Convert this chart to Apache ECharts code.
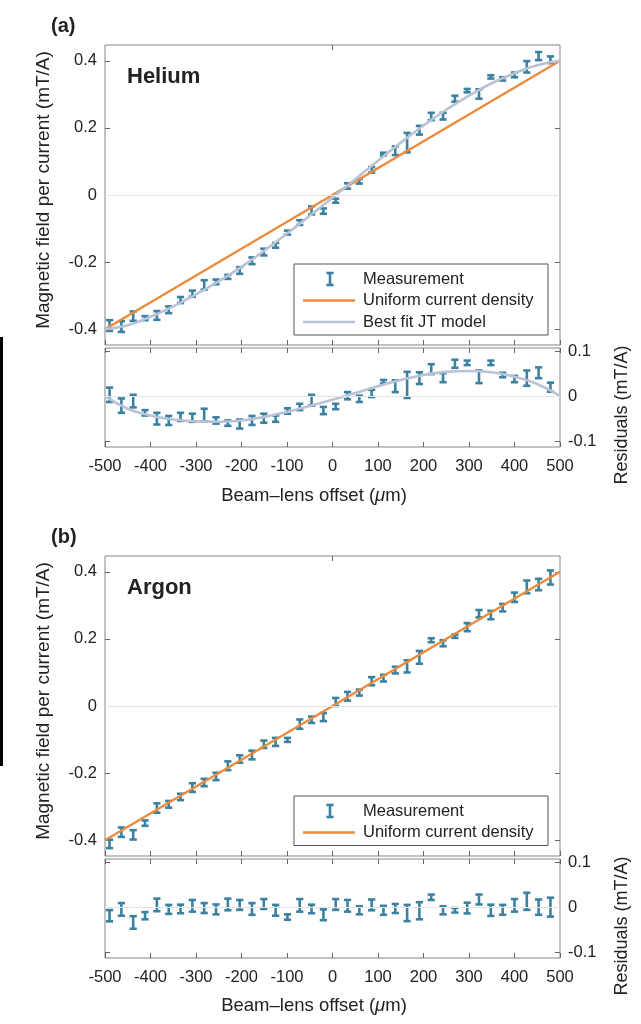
<!DOCTYPE html>
<html>
<head>
    <meta charset="utf-8">
    <title>Beam-lens offset</title>
    <style>
        html, body { margin: 0; padding: 0; background: #fff; }
        #chart { width: 641px; height: 1024px; }
    </style>
</head>
<body>
    <div id="chart"></div>
    <script src="https://cdn.jsdelivr.net/npm/echarts@6/dist/echarts.min.js"></script>
    <script>
        // beam-lens offset of every measurement (um)
        var xPos = [-490, -464, -438, -412, -386, -360, -334, -308, -282, -256, -230, -204, -177,
            -151, -125, -99, -72, -46, -20, 7, 33, 59, 86, 112, 138, 164, 191, 217, 243, 269, 296,
            322, 348, 374, 400, 427, 453, 479];

        // helium: field per current (mT/A), residual, error half-width
        var heliumMain = [-0.389, -0.392, -0.361, -0.367, -0.359, -0.342, -0.313, -0.294, -0.268,
            -0.259, -0.244, -0.225, -0.196, -0.170, -0.150, -0.112, -0.082, -0.046, -0.048, -0.017,
            0.027, 0.041, 0.075, 0.122, 0.132, 0.156, 0.193, 0.234, 0.235, 0.287, 0.311, 0.301,
            0.352, 0.346, 0.358, 0.382, 0.414, 0.403];
        var heliumRes = [0.003, -0.021, -0.011, -0.037, -0.050, -0.054, -0.046, -0.048, -0.042,
            -0.054, -0.060, -0.062, -0.054, -0.049, -0.050, -0.033, -0.024, -0.009, -0.032, -0.023,
            0.001, -0.006, 0.006, 0.032, 0.022, 0.025, 0.040, 0.060, 0.041, 0.072, 0.074, 0.043,
            0.074, 0.047, 0.038, 0.040, 0.052, 0.020];
        var heliumErr = [0.016, 0.016, 0.014, 0.006, 0.013, 0.010, 0.009, 0.009, 0.014, 0.007,
            0.006, 0.010, 0.010, 0.010, 0.007, 0.006, 0.007, 0.012, 0.008, 0.006, 0.008, 0.007,
            0.008, 0.004, 0.013, 0.029, 0.013, 0.011, 0.010, 0.009, 0.005, 0.014, 0.005, 0.005,
            0.007, 0.017, 0.012, 0.010];

        // argon
        var argonMain = [-0.411, -0.376, -0.384, -0.349, -0.304, -0.293, -0.271, -0.243, -0.228,
            -0.210, -0.178, -0.158, -0.146, -0.114, -0.107, -0.101, -0.054, -0.041, -0.033, 0.012,
            0.029, 0.040, 0.074, 0.083, 0.107, 0.118, 0.145, 0.196, 0.187, 0.208, 0.235, 0.275,
            0.271, 0.293, 0.324, 0.355, 0.362, 0.383];
        var argonRes = [-0.019, -0.005, -0.034, -0.019, 0.005, -0.005, -0.004, 0.003, -0.002,
            -0.005, 0.006, 0.005, -0.004, 0.007, -0.007, -0.022, 0.004, -0.004, -0.017, 0.006,
            0.003, -0.007, 0.005, -0.007, -0.003, -0.013, -0.008, 0.022, -0.007, -0.007, -0.002,
            0.017, -0.007, -0.006, 0.004, 0.013, 0.000, 0.000];
        var argonErr = [0.0125, 0.014, 0.014, 0.008, 0.014, 0.010, 0.0095, 0.013, 0.011, 0.011,
            0.013, 0.011, 0.013, 0.011, 0.012, 0.006, 0.014, 0.0095, 0.012, 0.012, 0.013, 0.009,
            0.012, 0.010, 0.010, 0.018, 0.019, 0.006, 0.009, 0.005, 0.012, 0.011, 0.0125, 0.011,
            0.014, 0.019, 0.017, 0.021];

        // uniform current density line and best fit JT model (helium)
        var uniformX = [-500, 500];
        var uniformY = [-0.4, 0.4];
        var fitX = [-500, -450, -400, -350, -300, -250, -200, -150, -100, -50, 0, 50, 100, 150,
            200, 250, 300, 350, 400, 450, 500];
        var fitMain = [-0.400, -0.388, -0.363, -0.332, -0.296, -0.257, -0.214, -0.166, -0.115,
            -0.062, -0.008, 0.047, 0.102, 0.156, 0.207, 0.254, 0.296, 0.333, 0.363, 0.387, 0.400];
        var fitRes = [0, -0.028, -0.043, -0.052, -0.056, -0.057, -0.054, -0.046, -0.035, -0.022,
            -0.008, 0.007, 0.022, 0.036, 0.047, 0.054, 0.056, 0.053, 0.043, 0.027, 0];

        // tick labels
        var xTicks = [-500, -400, -300, -200, -100, 0, 100, 200, 300, 400, 500];
        var mainTicks = [-0.4, -0.2, 0, 0.2, 0.4];
        var resTicks = [-0.1, 0, 0.1];

        var FONT = 'Liberation Sans, Arial, Helvetica, sans-serif';
        var TXT = '#222';
        var BAR = '#3b82a1';
        var ORANGE = '#ec8b3b';
        var FITC = '#b9c3d5';
        var TICKC = '#666';

        var chart = echarts.init(document.getElementById('chart'));

        function zip(xs, ys) {
            return xs.map(function (x, i) { return [x, ys[i]]; });
        }
        function zip3(xs, ys, es) {
            return xs.map(function (x, i) { return [x, ys[i], es[i]]; });
        }

        // I-shaped error bar
        function renderBar(params, api) {
            var x = api.value(0), y = api.value(1), e = api.value(2);
            var hi = api.coord([x, y + e]);
            var lo = api.coord([x, y - e]);
            var hw = 3.6;
            var st = { stroke: BAR, lineWidth: 2.6 };
            return {
                type: 'group',
                children: [
                    { type: 'line', shape: { x1: hi[0], y1: hi[1], x2: lo[0], y2: lo[1] }, style: st },
                    { type: 'line', shape: { x1: hi[0] - hw, y1: hi[1], x2: hi[0] + hw, y2: hi[1] }, style: st },
                    { type: 'line', shape: { x1: lo[0] - hw, y1: lo[1], x2: lo[0] + hw, y2: lo[1] }, style: st }
                ]
            };
        }

        var zeroLine = {
            silent: true,
            symbol: 'none',
            label: { show: false },
            lineStyle: { color: '#e4e4e4', width: 1, type: 'solid' },
            data: [{ yAxis: 0 }]
        };

        var grids = [
            { left: 105, width: 455, top: 45, height: 300 },
            { left: 105, width: 455, top: 348, height: 99 },
            { left: 105, width: 455, top: 556, height: 300 },
            { left: 105, width: 455, top: 859, height: 99 }
        ].map(function (g) {
            g.show = true;
            g.borderColor = '#858585';
            g.borderWidth = 1;
            g.backgroundColor = '#fff';
            return g;
        });

        var tickStyle = { inside: true, length: 5, lineStyle: { color: TICKC, width: 1 } };
        var labelStyle = { color: TXT, fontFamily: FONT, fontSize: 16.5 };
        var noLine = { show: false, onZero: false };

        var xAxes = [];
        var yAxes = [];
        [0, 1, 2, 3].forEach(function (gi) {
            var isRes = gi % 2 === 1;
            // bottom x axis
            xAxes.push({
                gridIndex: gi, type: 'value', position: 'bottom', min: -500, max: 500, interval: 100,
                axisLine: noLine, splitLine: { show: false },
                axisTick: tickStyle,
                axisLabel: Object.assign({ show: isRes, margin: 11, customValues: xTicks }, labelStyle)
            });
            // top x axis (ticks only)
            xAxes.push({
                gridIndex: gi, type: 'value', position: 'top', min: -500, max: 500, interval: 100,
                axisLine: noLine, splitLine: { show: false },
                axisTick: Object.assign({}, tickStyle, isRes ? {} : { customValues: [0] }),
                axisLabel: { show: false }
            });
            var ticks = isRes ? resTicks : mainTicks;
            var lim = isRes ? [-0.113, 0.107] : [-0.447, 0.447];
            // labelled y axis: left for main plots, right for residuals
            yAxes.push({
                gridIndex: gi, type: 'value', position: isRes ? 'right' : 'left',
                min: lim[0], max: lim[1],
                axisLine: noLine, splitLine: { show: false },
                axisTick: Object.assign({ customValues: ticks }, tickStyle),
                axisLabel: Object.assign({ customValues: ticks, margin: 8 }, labelStyle)
            });
            // mirrored tick-only y axis
            yAxes.push({
                gridIndex: gi, type: 'value', position: isRes ? 'left' : 'right',
                min: lim[0], max: lim[1],
                axisLine: noLine, splitLine: { show: false },
                axisTick: Object.assign({ customValues: ticks }, tickStyle),
                axisLabel: { show: false }
            });
        });

        var series = [
            // (a) helium, main
            {
                name: 'Uniform current density', type: 'line', xAxisIndex: 0, yAxisIndex: 0,
                showSymbol: false, silent: true,
                lineStyle: { color: ORANGE, width: 2.4 },
                data: zip(uniformX, uniformY),
                markLine: zeroLine
            },
            {
                name: 'Best fit JT model', type: 'line', xAxisIndex: 0, yAxisIndex: 0,
                showSymbol: false, silent: true, smooth: true,
                lineStyle: { color: FITC, width: 2.6 },
                data: zip(fitX, fitMain)
            },
            {
                name: 'Measurement', type: 'custom', xAxisIndex: 0, yAxisIndex: 0,
                renderItem: renderBar, encode: { x: 0, y: 1 },
                data: zip3(xPos, heliumMain, heliumErr)
            },
            // (a) helium, residuals
            {
                name: 'Best fit JT model', type: 'line', xAxisIndex: 2, yAxisIndex: 2,
                showSymbol: false, silent: true, smooth: true,
                lineStyle: { color: FITC, width: 2.6 },
                data: zip(fitX, fitRes),
                markLine: zeroLine
            },
            {
                name: 'Measurement', type: 'custom', xAxisIndex: 2, yAxisIndex: 2,
                renderItem: renderBar, encode: { x: 0, y: 1 },
                data: zip3(xPos, heliumRes, heliumErr)
            },
            // (b) argon, main
            {
                name: 'Uniform current density', type: 'line', xAxisIndex: 4, yAxisIndex: 4,
                showSymbol: false, silent: true,
                lineStyle: { color: ORANGE, width: 2.4 },
                data: zip(uniformX, uniformY),
                markLine: zeroLine
            },
            {
                name: 'Measurement', type: 'custom', xAxisIndex: 4, yAxisIndex: 4,
                renderItem: renderBar, encode: { x: 0, y: 1 },
                data: zip3(xPos, argonMain, argonErr)
            },
            // (b) argon, residuals
            {
                name: 'Measurement', type: 'custom', xAxisIndex: 6, yAxisIndex: 6,
                renderItem: renderBar, encode: { x: 0, y: 1 },
                data: zip3(xPos, argonRes, argonErr),
                markLine: zeroLine
            }
        ];

        // texts, legends and the stray bar at the left edge
        function txt(x, y, text, size, opts) {
            return Object.assign({
                type: 'text', x: x, y: y, silent: true,
                style: { text: text, fill: TXT, font: size + 'px ' + FONT, align: 'left', verticalAlign: 'middle' }
            }, opts || {});
        }
        function vtxt(x, y, text, size) {
            return {
                type: 'text', x: x, y: y, rotation: Math.PI / 2, silent: true,
                style: { text: text, fill: TXT, font: size + 'px ' + FONT, align: 'center', verticalAlign: 'middle' }
            };
        }
        function xName(y) {
            return {
                type: 'text', x: 314, y: y, silent: true,
                style: {
                    text: '{n|Beam\u2013lens offset (}{i|\u03bc}{n|m)}',
                    align: 'center', verticalAlign: 'middle',
                    rich: {
                        n: { fill: TXT, font: '18.5px ' + FONT },
                        i: { fill: TXT, font: 'italic 18.5px ' + FONT }
                    }
                }
            };
        }
        function legend(top, rows) {
            var h = rows.length * 21.5 + 6.5;
            var items = [{
                type: 'rect', shape: { x: 294, y: top, width: 254, height: h },
                style: { fill: '#fff', stroke: '#555', lineWidth: 1 }
            }];
            rows.forEach(function (r, i) {
                var cy = top + 15 + i * 21.5;
                if (r.kind === 'bar') {
                    var bs = { stroke: BAR, lineWidth: 2.6 };
                    items.push({ type: 'line', shape: { x1: 330, y1: cy - 6, x2: 330, y2: cy + 6 }, style: bs });
                    items.push({ type: 'line', shape: { x1: 326.4, y1: cy - 6, x2: 333.6, y2: cy - 6 }, style: bs });
                    items.push({ type: 'line', shape: { x1: 326.4, y1: cy + 6, x2: 333.6, y2: cy + 6 }, style: bs });
                } else {
                    items.push({ type: 'line', shape: { x1: 303, y1: cy, x2: 355, y2: cy }, style: { stroke: r.color, lineWidth: 2.4 } });
                }
                items.push(txt(363, cy, r.name, 16.5));
            });
            return { type: 'group', silent: true, children: items };
        }

        var graphics = [
            { type: 'rect', shape: { x: 0, y: 337, width: 3, height: 429 }, style: { fill: '#000' }, silent: true },
            txt(51, 26, '(a)', 20, {}),
            txt(51, 537, '(b)', 20, {}),
            txt(127, 77, 'Helium', 22, {}),
            txt(127, 588, 'Argon', 22, {}),
            vtxt(44, 190, 'Magnetic field per current (mT/A)', 19),
            vtxt(44, 701, 'Magnetic field per current (mT/A)', 19),
            vtxt(622, 415, 'Residuals (mT/A)', 18),
            vtxt(622, 926, 'Residuals (mT/A)', 18),
            xName(496),
            xName(1006),
            legend(264, [
                { kind: 'bar', name: 'Measurement' },
                { kind: 'line', name: 'Uniform current density', color: ORANGE },
                { kind: 'line', name: 'Best fit JT model', color: FITC }
            ]),
            legend(796, [
                { kind: 'bar', name: 'Measurement' },
                { kind: 'line', name: 'Uniform current density', color: ORANGE }
            ])
        ];
        // bold panel labels
        [1, 2, 3, 4].forEach(function (i) {
            graphics[i].style.font = 'bold ' + graphics[i].style.font;
        });

        chart.setOption({
            animation: false,
            backgroundColor: '#fff',
            grid: grids,
            xAxis: xAxes,
            yAxis: yAxes,
            series: series,
            graphic: graphics
        });

        window.addEventListener('resize', function () {
            chart.resize();
        });
    </script>
</body>
</html>
